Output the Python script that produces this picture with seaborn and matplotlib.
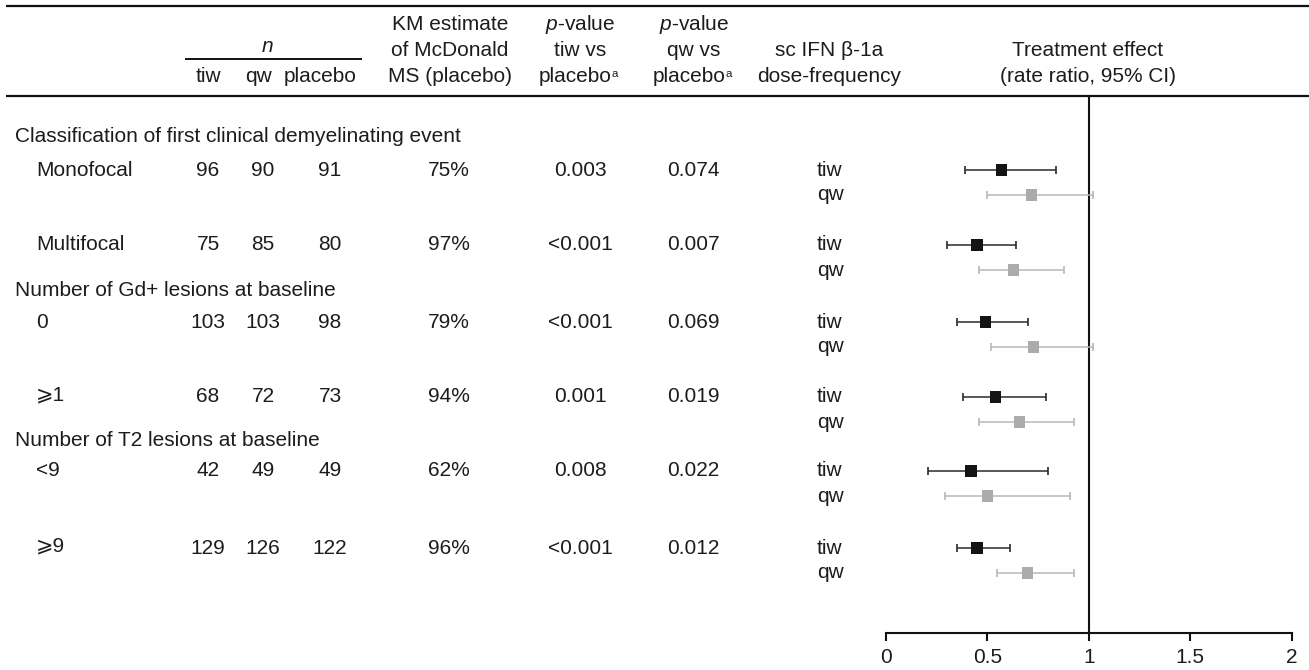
import numpy as np
import pandas as pd
import matplotlib
matplotlib.use("Agg")
import matplotlib.pyplot as plt
import seaborn as sns

# ---- data ---------------------------------------------------------------
group_titles = [
    "Classification of first clinical demyelinating event",
    "Number of Gd+ lesions at baseline",
    "Number of T2 lesions at baseline",
]
subgroups = ["Monofocal", "Multifocal", "0", "\u2a7e1", "<9", "\u2a7e9"]
n_tiw = [96, 75, 103, 68, 42, 129]
n_qw = [90, 85, 103, 72, 49, 126]
n_placebo = [91, 80, 98, 73, 49, 122]
km_placebo = ["75%", "97%", "79%", "94%", "62%", "96%"]
p_tiw = ["0.003", "<0.001", "<0.001", "0.001", "0.008", "<0.001"]
p_qw = ["0.074", "0.007", "0.069", "0.019", "0.022", "0.012"]

rr_tiw = [0.57, 0.45, 0.49, 0.54, 0.42, 0.45]
lo_tiw = [0.39, 0.30, 0.35, 0.38, 0.21, 0.35]
hi_tiw = [0.84, 0.64, 0.70, 0.79, 0.80, 0.61]
rr_qw = [0.72, 0.63, 0.73, 0.66, 0.50, 0.70]
lo_qw = [0.50, 0.46, 0.52, 0.46, 0.29, 0.55]
hi_qw = [1.02, 0.88, 1.02, 0.93, 0.91, 0.93]

x_ticks = [0, 0.5, 1, 1.5, 2]
x_tick_labels = ["0", "0.5", "1", "1.5", "2"]

# ---- layout (pixel rows of a 1309 x 670 canvas) -------------------------
W, H = 1309, 670
row_y = [170, 245, 322, 397, 471, 548]
group_y = [137, 290, 440]
qw_offset = 25
head_y = [25, 51, 77]
rule_top, rule_bottom = 6, 96
axis_y = 633
x0_px, x2_px = 885.7, 1291.7

sns.set_theme(style="white")
FONT = ["Liberation Sans", "DejaVu Sans"]
plt.rcParams["font.family"] = FONT
plt.rcParams["mathtext.fontset"] = "custom"
plt.rcParams["mathtext.rm"] = "Liberation Sans"
plt.rcParams["mathtext.it"] = "Liberation Sans:italic"
FS = 15
TXT = "#1c1c1c"

fig = plt.figure(figsize=(W / 100, H / 100), dpi=100)
fig.patch.set_facecolor("white")

# text / rules layer in pixel coordinates
ax_t = fig.add_axes([0, 0, 1, 1])
ax_t.set_xlim(0, W)
ax_t.set_ylim(H, 0)
ax_t.axis("off")

def put(x, y, s, ha="center", size=FS, **kw):
    ax_t.text(x, y, s, ha=ha, va="center", fontsize=size, color=TXT, **kw)

ax_t.plot([6, W], [rule_top, rule_top], color="#111111", lw=1.6, solid_capstyle="butt")
ax_t.plot([6, W], [rule_bottom, rule_bottom], color="#111111", lw=1.6, solid_capstyle="butt")
ax_t.plot([185, 362], [59, 59], color="#111111", lw=1.4, solid_capstyle="butt")

# header
put(267, 46, r"$\it{n}$")
put(208, head_y[2], "tiw")
put(259, head_y[2], "qw")
put(320, head_y[2], "placebo")

for i, s in enumerate(["KM estimate", "of McDonald", "MS (placebo)"]):
    put(450, head_y[i], s)
for cx, mid in [(580, "tiw vs"), (694, "qw vs")]:
    put(cx, head_y[0], r"$\it{p}$-value")
    put(cx, head_y[1], mid)
    put(cx - 5, head_y[2], "placebo")
    put(cx + 32, head_y[2] - 3, "a", ha="left", size=FS * 0.55)
put(829, head_y[1], "sc IFN \u03b2-1a")
put(829, head_y[2], "dose-frequency")
put(1088, head_y[1], "Treatment effect")
put(1088, head_y[2], "(rate ratio, 95% CI)")

# body text
for g, t in enumerate(group_titles):
    put(15, group_y[g], t, ha="left")
for i, lab in enumerate(subgroups):
    y = row_y[i]
    put(36, y - (2 if lab.startswith("\u2a7e") else 0), lab, ha="left")
    put(208, y, str(n_tiw[i]))
    put(263, y, str(n_qw[i]))
    put(330, y, str(n_placebo[i]))
    put(449, y, km_placebo[i])
    put(580, y, p_tiw[i])
    put(693, y, p_qw[i])
    put(817, y, "tiw", ha="left")
    put(817, y + qw_offset, "qw", ha="left")

# ---- forest panel -------------------------------------------------------
left = x0_px / W
width = (x2_px - x0_px) / W
bottom = (H - axis_y) / H
height = (axis_y - rule_bottom) / H
ax = fig.add_axes([left, bottom, width, height])
ax.patch.set_alpha(0)

df = pd.DataFrame({
    "rr": rr_tiw + rr_qw,
    "lo": lo_tiw + lo_qw,
    "hi": hi_tiw + hi_qw,
    "dose": ["tiw"] * len(rr_tiw) + ["qw"] * len(rr_qw),
    "row": list(range(len(rr_tiw))) * 2,
})
df["y"] = [row_y[r] + (qw_offset if d == "qw" else 0) for r, d in zip(df["row"], df["dose"])]

line_col = {"tiw": "#2a2a2a", "qw": "#b8b8b8"}
box_col = {"tiw": "#141414", "qw": "#ababab"}

for d, sub in df.groupby("dose"):
    ax.errorbar(sub["rr"], sub["y"],
                xerr=[sub["rr"] - sub["lo"], sub["hi"] - sub["rr"]],
                fmt="none", ecolor=line_col[d], elinewidth=1.1,
                capsize=3.2, capthick=1.2, zorder=2)

sns.scatterplot(data=df, x="rr", y="y", hue="dose", palette=box_col,
                marker="s", s=64, linewidth=0, legend=False, ax=ax, zorder=3)

ax.axvline(1, color="#111111", lw=1.5, zorder=1)

ax.set_xlim(0, 2)
ax.set_ylim(axis_y, rule_bottom)
ax.set_xticks(x_ticks)
ax.set_xticklabels(x_tick_labels, fontsize=FS, color=TXT)
ax.set_yticks([])
ax.set_xlabel("")
ax.set_ylabel("")
for side in ["top", "right", "left"]:
    ax.spines[side].set_visible(False)
ax.spines["bottom"].set_color("#111111")
ax.spines["bottom"].set_linewidth(1.5)
ax.tick_params(axis="x", direction="out", length=6, width=1.5,
               color="#111111", pad=5, bottom=True)

fig.savefig("out.png", dpi=100, facecolor="white")
